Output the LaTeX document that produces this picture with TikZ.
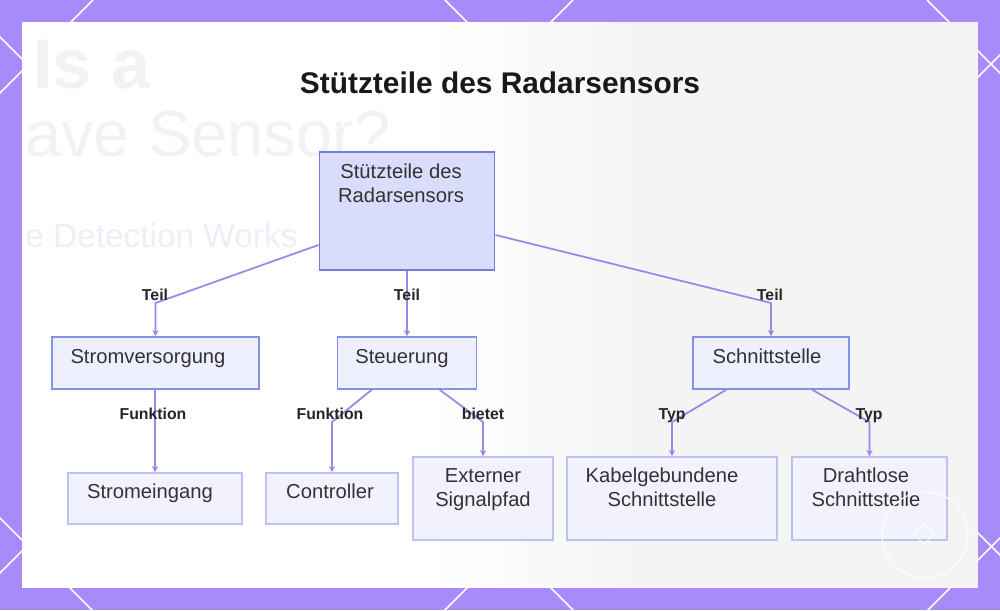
\documentclass[tikz,border=0pt]{standalone}
\usepackage{fontspec}
\setmainfont{Liberation Sans}
\usetikzlibrary{calc,arrows.meta}
\definecolor{bgpurple}{HTML}{A78BFA}
\definecolor{edgecol}{HTML}{A084E6}
\definecolor{rootfill}{HTML}{D9DCFB}
\definecolor{rootborder}{HTML}{6F7FD6}
\definecolor{ltwofill}{HTML}{EEF0FE}
\definecolor{ltwoborder}{HTML}{8393E4}
\definecolor{lthreefill}{HTML}{F1F2FE}
\definecolor{lthreeborder}{HTML}{BCC3F3}
\definecolor{txt}{HTML}{333333}
\definecolor{fadetxt}{HTML}{F2F2F3}
\definecolor{fadeblue}{HTML}{EDEFF7}
\definecolor{greyarea}{HTML}{F4F4F5}
\tikzset{
  rootbox/.style={draw=rootborder, fill=rootfill, line width=1.1pt, inner sep=0pt},
  boxtwo/.style={draw=ltwoborder, fill=ltwofill, line width=0.9pt, inner sep=0pt},
  boxthree/.style={draw=lthreeborder, fill=lthreefill, line width=0.9pt, inner sep=0pt},
  boxtext/.style={text=txt, font=\fontsize{11.5}{13.6}\selectfont, align=center, inner sep=0pt, anchor=base},
  elabel/.style={text=black!85, font=\bfseries\fontsize{9}{11}\selectfont, inner sep=0pt, anchor=base},
  edge/.style={draw=edgecol, line width=1pt, line join=round, -{Stealth[length=3.5pt,width=3.5pt]}},
  lattice/.style={draw=white, line width=0.9pt}
}
\begin{document}
\begin{tikzpicture}[x=0.02cm,y=-0.02cm]
\useasboundingbox (0,0) rectangle (1000,610);
% purple frame with lattice
\fill[bgpurple] (0,0) rectangle (1000,610);
\begin{scope}
  \clip (0,0) rectangle (1000,610);
  \foreach \c in {93,573,1055,1538} \draw[lattice] (\c,0) -- ++(-700,700);
  \foreach \c in {-518,-37,445,927} \draw[lattice] (\c,0) -- ++(700,700);
\end{scope}
% white panel
\fill[white] (22,22) rectangle (978,588);
% soft grey area on the right (stepped gradient)
\foreach \i in {0,...,20} {
  \pgfmathsetmacro{\xa}{430+10*\i}
  \pgfmathsetmacro{\pc}{100*\i/20}
  \fill[greyarea!\pc!white] (\xa,22) rectangle ({\xa+10.5},588);
}
\fill[greyarea] (640,22) rectangle (978,588);
% faded background text
\begin{scope}
  \clip (22,22) rectangle (978,588);
  \node[text=fadetxt, font=\bfseries\fontsize{40}{40}\selectfont, anchor=base west, inner sep=0pt] (fadeA) at (33,88) {Is a};
  \node[text=fadetxt, font=\fontsize{37}{37}\selectfont, anchor=base west, inner sep=0pt] (fadeB) at (25,156) {ave Sensor?};
  \node[text=fadeblue, font=\fontsize{19}{19}\selectfont, anchor=base west, inner sep=0pt] (fadeC) at (25,247) {e Detection Works};
\end{scope}
% title
\node[text=black!90, font=\bfseries\fontsize{17}{20}\selectfont, anchor=base, inner sep=0pt] (title) at (500,93) {Stützteile des Radarsensors};
% boxes
\node[rootbox, minimum width=3.5cm, minimum height=2.36cm] (root) at (407,211) {};
\node[boxtwo, minimum width=4.14cm, minimum height=1.04cm] (sv) at (155.5,363) {};
\node[boxtwo, minimum width=2.78cm, minimum height=1.04cm] (st) at (407,363) {};
\node[boxtwo, minimum width=3.12cm, minimum height=1.04cm] (sn) at (771,363) {};
\node[boxthree, minimum width=3.48cm, minimum height=1.02cm] (se) at (155,498.5) {};
\node[boxthree, minimum width=2.64cm, minimum height=1.02cm] (ct) at (332,498.5) {};
\node[boxthree, minimum width=2.8cm, minimum height=1.66cm] (ex) at (483,498.5) {};
\node[boxthree, minimum width=4.2cm, minimum height=1.66cm] (kb) at (672,498.5) {};
\node[boxthree, minimum width=3.1cm, minimum height=1.66cm] (dl) at (869.5,498.5) {};
% box texts (multi-line: base = last line baseline)
\node[boxtext] (troot) at (401,202) {Stützteile des\\Radarsensors};
\node[boxtext] (tsv) at (148,363) {Stromversorgung};
\node[boxtext] (tst) at (402,363) {Steuerung};
\node[boxtext] (tsn) at (767,363) {Schnittstelle};
\node[boxtext] (tse) at (150,498) {Stromeingang};
\node[boxtext] (tct) at (330,498) {Controller};
\node[boxtext] (tex) at (483,506) {Externer\\Signalpfad};
\node[boxtext] (tkb) at (662,506) {Kabelgebundene\\Schnittstelle};
\node[boxtext] (tdl) at (866,506) {Drahtlose\\Schnittstelle};
% kink coordinates
\coordinate (k1) at (155.5,303);
\coordinate (k3) at (771,303);
\coordinate (k5) at (332,422);
\coordinate (k6) at (483,422);
\coordinate (k7) at (672,422);
\coordinate (k8) at (869.5,422);
% connectors
\draw[edge] ($(root.south west)+(0,-26)$) -- (k1) -- (sv.north);
\draw[edge] (root.south) -- (st.north);
\draw[edge] ($(root.south east)+(0,-36)$) -- (k3) -- (sn.north);
\draw[edge] (se.north |- sv.south) -- (se.north);
\draw[edge] ($(st.south west)+(35,0)$) -- (k5) -- (ct.north);
\draw[edge] ($(st.south west)+(103,0)$) -- (k6) -- (ex.north);
\draw[edge] ($(sn.south west)+(34,0)$) -- (k7) -- (kb.north);
\draw[edge] ($(sn.south west)+(120,0)$) -- (k8) -- (dl.north);
% edge labels
\node[elabel] (l1) at (155,300) {Teil};
\node[elabel] (l2) at (407,300) {Teil};
\node[elabel] (l3) at (770,300) {Teil};
\node[elabel] (l4) at (153,419) {Funktion};
\node[elabel] (l5) at (330,419) {Funktion};
\node[elabel] (l6) at (483,419) {bietet};
\node[elabel] (l7) at (672,419) {Typ};
\node[elabel] (l8) at (869,419) {Typ};
% watermark
\draw[white, line width=0.6pt] (925,535) circle[radius=43];
\draw[white, line width=0.6pt] (924,524) -- (934,534) -- (924,544) -- (914,534) -- cycle;
\end{tikzpicture}
\end{document}
